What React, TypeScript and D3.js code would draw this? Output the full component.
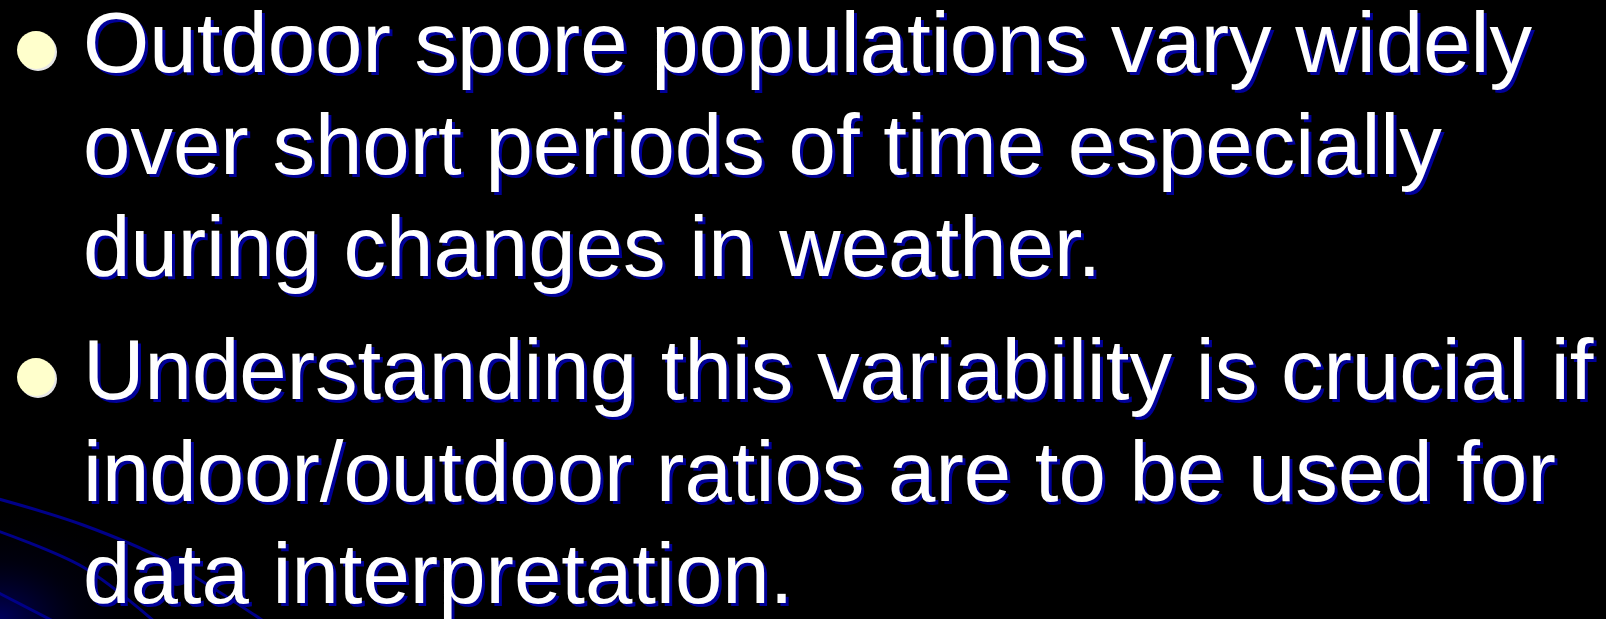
import React from "react";
import * as d3 from "d3";

const W = 1606;
const H = 619;

const paragraph1: string[] = [
  "Outdoor spore populations vary widely",
  "over short periods of time especially",
  "during changes in weather.",
];
const paragraph2: string[] = [
  "Understanding this variability is crucial if",
  "indoor/outdoor ratios are to be used for",
  "data interpretation.",
];
const paragraphs: string[][] = [paragraph1, paragraph2];

// decorative swoosh curves in the lower-left corner (x, y pairs)
const swooshA: [number, number][] = [[-5, 498], [83, 525], [167, 561], [265, 622]];
const swooshB: [number, number][] = [[-5, 530], [83, 567], [155, 622]];
const swooshC: [number, number][] = [[-5, 591], [55, 622]];
const swooshes = [swooshA, swooshB, swooshC];

export default function App() {
  const fontSize = 85.2;
  const lineGap = 102;
  const paraGap = 123;
  const textX = 83;
  const firstBaseline = 72;

  const lineGen = d3.line<[number, number]>().curve(d3.curveCatmullRom.alpha(0.5));

  const rows: { text: string; y: number; bullet: boolean }[] = [];
  let y = firstBaseline;
  paragraphs.forEach((p, pi) => {
    if (pi > 0) y += paraGap - lineGap;
    p.forEach((t, li) => {
      rows.push({ text: t, y, bullet: li === 0 });
      y += lineGap;
    });
  });

  const font = "'Liberation Sans', Arial, sans-serif";

  return (
    <svg
      width={W}
      height={H}
      style={{ position: "absolute", left: 0, top: 0, display: "block", background: "#000" }}
    >
      <defs>
        <radialGradient id="glow" cx="0" cy="1" r="1">
          <stop offset="0" stopColor="#000066" stopOpacity="0.9" />
          <stop offset="0.5" stopColor="#000022" stopOpacity="0.4" />
          <stop offset="1" stopColor="#000000" stopOpacity="0" />
        </radialGradient>
      </defs>
      <rect x={0} y={0} width={W} height={H} fill="#000" />
      <rect x={0} y={500} width={160} height={119} fill="url(#glow)" />
      {swooshes.map((s, i) => (
        <path key={i} d={lineGen(s) || ""} fill="none" stroke="#000088" strokeWidth={3} />
      ))}
      <circle cx={177} cy={571} r={15} fill="#000080" />
      {rows.map((r, i) => (
        <g key={i}>
          {r.bullet && (
            <g>
              <circle cx={38} cy={r.y - 20} r={19} fill="#e6e6e6" />
              <circle cx={36} cy={r.y - 22} r={19} fill="#FFFFCC" />
            </g>
          )}
          <text
            x={textX + 3}
            y={r.y + 3}
            fontFamily={font}
            fontSize={fontSize}
            fill="#000099"
          >
            {r.text}
          </text>
          <text x={textX} y={r.y} fontFamily={font} fontSize={fontSize} fill="#ffffff">
            {r.text}
          </text>
        </g>
      ))}
    </svg>
  );
}
